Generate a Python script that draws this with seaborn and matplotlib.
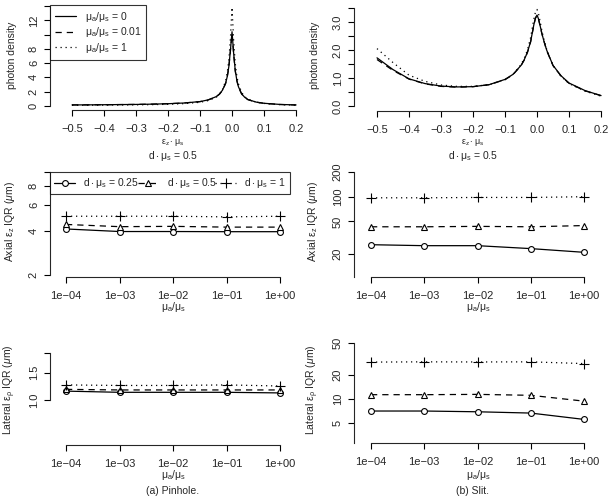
import matplotlib
matplotlib.use('Agg')
import matplotlib.pyplot as plt
import seaborn as sns
import pandas as pd

# photon density profiles
dens_x = [-0.5, -0.45, -0.4, -0.35, -0.3, -0.25, -0.2, -0.15, -0.1, -0.075, -0.05, -0.04,
          -0.03, -0.02, -0.015, -0.01, -0.005, 0.0, 0.005, 0.01, 0.015, 0.02, 0.03, 0.04,
          0.05, 0.075, 0.1, 0.15, 0.2]
pin_dens_0 = [0.15, 0.16, 0.18, 0.2, 0.22, 0.26, 0.32, 0.42, 0.62, 0.85, 1.3, 1.65,
              2.2, 3.2, 4.1, 5.5, 7.8, 10.4, 7.4, 5.0, 3.6, 2.7, 1.7, 1.2,
              0.9, 0.55, 0.38, 0.22, 0.15]
pin_dens_001 = [0.15, 0.16, 0.18, 0.2, 0.22, 0.26, 0.32, 0.42, 0.61, 0.84, 1.28, 1.62,
                2.15, 3.15, 4.05, 5.4, 7.7, 10.2, 7.3, 4.9, 3.55, 2.65, 1.68, 1.18,
                0.88, 0.54, 0.37, 0.21, 0.14]
pin_dens_1 = [0.1, 0.11, 0.12, 0.14, 0.16, 0.19, 0.24, 0.33, 0.52, 0.75, 1.2, 1.6,
              2.3, 3.5, 4.7, 6.4, 9.5, 13.8, 9.2, 6.0, 4.2, 3.1, 1.9, 1.3,
              0.95, 0.55, 0.36, 0.19, 0.12]

slit_dens_0 = [1.72, 1.3, 0.97, 0.8, 0.71, 0.68, 0.69, 0.76, 0.95, 1.13, 1.45, 1.65,
               1.92, 2.3, 2.6, 2.9, 3.15, 3.25, 3.1, 2.85, 2.6, 2.38, 2.0, 1.72,
               1.45, 1.08, 0.82, 0.55, 0.37]
slit_dens_001 = [1.66, 1.27, 0.96, 0.79, 0.7, 0.67, 0.69, 0.76, 0.94, 1.12, 1.44, 1.64,
                 1.91, 2.29, 2.59, 2.88, 3.13, 3.23, 3.08, 2.84, 2.59, 2.37, 1.99, 1.71,
                 1.44, 1.07, 0.81, 0.54, 0.37]
slit_dens_1 = [2.05, 1.55, 1.1, 0.88, 0.75, 0.7, 0.7, 0.76, 0.94, 1.13, 1.48, 1.7,
               2.0, 2.45, 2.78, 3.1, 3.35, 3.45, 3.28, 3.0, 2.7, 2.45, 2.03, 1.73,
               1.45, 1.06, 0.8, 0.53, 0.35]

# IQR vs absorption ratio
ratios = [1e-4, 1e-3, 1e-2, 1e-1, 1e0]
ratio_labels = ['1e\u221204', '1e\u221203', '1e\u221202', '1e\u221201', '1e+00']

pin_axial_025 = [4.1, 3.94, 3.94, 3.93, 3.93]
pin_axial_05 = [4.4, 4.25, 4.27, 4.22, 4.22]
pin_axial_1 = [5.0, 5.0, 5.0, 4.95, 5.0]
slit_axial_025 = [26.0, 25.3, 25.3, 23.3, 21.0]
slit_axial_05 = [43.0, 43.0, 43.5, 43.0, 44.5]
slit_axial_1 = [97, 97, 98, 98, 100]
pin_lat_025 = [1.14, 1.12, 1.12, 1.12, 1.11]
pin_lat_05 = [1.17, 1.16, 1.16, 1.16, 1.16]
pin_lat_1 = [1.25, 1.24, 1.24, 1.25, 1.23]
slit_lat_025 = [7.0, 7.0, 6.85, 6.6, 5.5]
slit_lat_05 = [11.2, 11.2, 11.3, 11.0, 9.3]
slit_lat_1 = [28.6, 28.8, 28.7, 28.8, 27.4]

sns.set_style('ticks')
plt.rcParams['font.family'] = ['Liberation Sans', 'DejaVu Sans']
plt.rcParams['mathtext.fontset'] = 'custom'
plt.rcParams['mathtext.rm'] = 'Liberation Sans'
plt.rcParams['mathtext.it'] = 'Liberation Sans:italic'
plt.rcParams['mathtext.default'] = 'regular'

W, H = 612, 500
fig = plt.figure(figsize=(W / 100, H / 100), dpi=100)


def px_axes(l, t, r, b):
    return fig.add_axes([l / W, 1 - b / H, (r - l) / W, (b - t) / H])


def style(ax):
    for s in ['top', 'right']:
        ax.spines[s].set_visible(False)
    for s in ['left', 'bottom']:
        ax.spines[s].set_linewidth(0.8)
    ax.tick_params(direction='out', length=4, width=0.8, labelsize=8, color='black')
    ax.tick_params(axis='x', pad=6)
    ax.tick_params(axis='y', pad=4, labelrotation=90)
    for lab in ax.get_yticklabels():
        lab.set_va('center')
    ax.set_facecolor('white')
    ax.set_xlabel('')
    ax.set_ylabel('')


LS = {'solid': '-', 'dashed': (0, (5, 4)), 'dotted': (0, (1, 3))}

# ---------- row 1: photon density ----------
dens_sets = [(pin_dens_0, pin_dens_001, pin_dens_1), (slit_dens_0, slit_dens_001, slit_dens_1)]
boxes1 = [(50, 3, 305, 110), (354, 3, 610, 111)]
ylims1 = [(-0.56, 14.42), (-0.18, 3.68)]
dens_labels = [r'$\mu_a/\mu_s$ = 0', r'$\mu_a/\mu_s$ = 0.01', r'$\mu_a/\mu_s$ = 1']
for i, (series, box, yl) in enumerate(zip(dens_sets, boxes1, ylims1)):
    ax = px_axes(*box)
    left_x = -0.5 - (22 if i == 0 else 23) / 320
    for y, ls, lab in zip(series, ['solid', 'dashed', 'dotted'], dens_labels):
        sns.lineplot(x=dens_x, y=y, ax=ax, color='black', linewidth=0.9,
                     linestyle=LS[ls], label=lab if i == 0 else None)
    ax.set_xlim(left_x, 0.228)
    ax.set_ylim(*yl)
    ax.set_xticks([-0.5, -0.4, -0.3, -0.2, -0.1, 0.0, 0.1, 0.2])
    ax.set_xticklabels(['\u22120.5', '\u22120.4', '\u22120.3', '\u22120.2', '\u22120.1', '0.0', '0.1', '0.2'])
    if i == 0:
        ax.set_yticks([0, 2, 4, 6, 8, 10, 12, 14])
        ax.set_yticklabels(['0', '2', '4', '6', '8', '', '12', ''])
        ax.spines['left'].set_bounds(0, 14)
        leg = ax.legend(loc='upper left', bbox_to_anchor=(0, 1 - 2 / 107), borderaxespad=0,
                        fontsize=7.5, frameon=True, fancybox=False, handlelength=2.0,
                        handletextpad=0.9, labelspacing=0.15, borderpad=0.45)
        leg.get_frame().set_edgecolor('black')
        leg.get_frame().set_linewidth(0.8)
    else:
        ax.set_yticks([0, 0.5, 1, 1.5, 2, 2.5, 3, 3.5])
        ax.set_yticklabels(['0.0', '', '1.0', '', '2.0', '', '3.0', ''])
        ax.spines['left'].set_bounds(0, 3.5)
        if ax.get_legend():
            ax.get_legend().remove()
    ax.spines['bottom'].set_bounds(-0.5, 0.2)
    style(ax)

# ---------- rows 2, 3: IQR ----------
panels = [
    ((50, 168, 290, 277), (pin_axial_025, pin_axial_05, pin_axial_1), (1.94, 10.6),
     [2, 4, 6, 8, 10], ['2', '4', '6', '8', ''], (2, 10), True),
    ((354, 168, 594, 277), (slit_axial_025, slit_axial_05, slit_axial_1), (10.5, 224),
     [20, 50, 100, 200], ['20', '50', '100', '200'], (10.5, 200), False),
    ((50, 350, 290, 445), (pin_lat_025, pin_lat_05, pin_lat_1), (0.512, 2.1),
     [1.0, 1.5, 2.0], ['1.0', '1.5', ''], (1.0, 2.0), False),
    ((354, 340, 594, 443), (slit_lat_025, slit_lat_05, slit_lat_1), (2.79, 54),
     [5, 10, 20, 50], ['5', '10', '20', '50'], (2.79, 50), False),
]
markers = ['o', '^', '+']
msizes = [4.2, 4.8, 7]
leg_labels = [r'$d \cdot \mu_s$ = 0.25', r'$d \cdot \mu_s$ = 0.5', r'$d \cdot \mu_s$ = 1']
for box, series, yl, yt, ytl, yb, with_leg in panels:
    ax = px_axes(*box)
    left = box[0]
    x0 = 66 if left == 50 else 371
    ppd = (280 - 66) / 4 if left == 50 else (584 - 371) / 4
    for y, ls, m, ms, lab in zip(series, ['solid', 'dashed', 'dotted'], markers, msizes, leg_labels):
        sns.lineplot(x=ratios, y=y, ax=ax, color='black', linewidth=0.9, linestyle=LS[ls],
                     marker=m, markersize=ms, markerfacecolor='white',
                     markeredgecolor='black', markeredgewidth=0.8,
                     label=lab if with_leg else None)
    ax.set_xscale('log')
    ax.set_yscale('log')
    ax.set_xlim(10 ** (-4 - (x0 - left) / ppd), 10 ** (10 / ppd))
    ax.set_ylim(*yl)
    ax.minorticks_off()
    ax.set_xticks(ratios)
    ax.set_xticklabels(ratio_labels)
    ax.set_yticks(yt)
    ax.set_yticklabels(ytl)
    ax.spines['bottom'].set_bounds(1e-4, 1)
    ax.spines['left'].set_bounds(*yb)
    if with_leg:
        leg = ax.legend(loc='upper left', bbox_to_anchor=(0, 0, 1.0, 1 - 4 / 109), mode='expand',
                        ncol=3, borderaxespad=0, fontsize=7.5, frameon=True, fancybox=False,
                        handlelength=2.0, handletextpad=0.8, columnspacing=0.6, borderpad=0.4)
        leg.get_frame().set_edgecolor('black')
        leg.get_frame().set_linewidth(0.8)
    elif ax.get_legend():
        ax.get_legend().remove()
    style(ax)

# ---------- text labels ----------
def ftext(x, y, s, **kw):
    fig.text(x / W, 1 - y / H, s, ha='center', va='center', **kw)

for cx in [173, 473]:
    ftext(cx, 142, r'$\varepsilon_z \cdot \mu_s$', fontsize=6.5)
    ftext(cx, 156, r'$d \cdot \mu_s$ = 0.5', fontsize=7.5)
for cx in [173, 478]:
    ftext(cx, 307, r'$\mu_a/\mu_s$', fontsize=7.5)
    ftext(cx, 475, r'$\mu_a/\mu_s$', fontsize=7.5)
ftext(173, 491, '(a) Pinhole.', fontsize=7.5)
ftext(473, 491, '(b) Slit.', fontsize=7.5)

for lx in [12, 315]:
    ftext(lx, 55, 'photon density', fontsize=7.5, rotation=90)
for lx in [10, 313]:
    ftext(lx, 222, r'Axial $\varepsilon_z$ IQR ($\mathit{\mu}$m)', fontsize=7.5, rotation=90)
    ftext(lx, 390, r'Lateral $\varepsilon_\rho$ IQR ($\mathit{\mu}$m)', fontsize=7.5, rotation=90)

fig.savefig('out.png', dpi=100, facecolor='white')
